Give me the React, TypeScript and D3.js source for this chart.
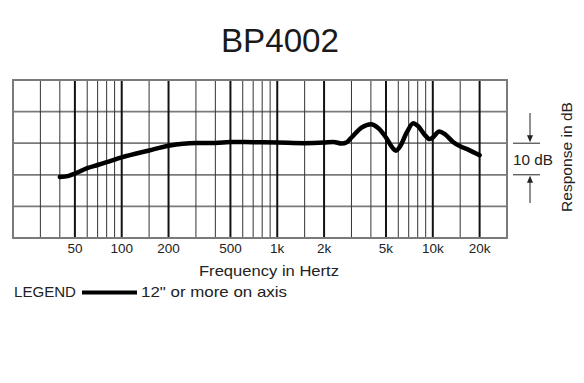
import React from "react";
import * as d3 from "d3";

const title = "BP4002";
const freqs = [40, 45, 50, 60, 70, 80, 100, 150, 200, 300, 400, 500, 700, 1000, 1500, 2000, 2300, 2600, 2800, 3000, 3500, 4000, 4500, 5000, 5500, 5800, 6200, 6800, 7500, 8000, 9000, 9500, 10000, 11000, 12000, 13500, 15000, 17000, 20000];
const response = [-10.7, -10.4, -9.6, -7.9, -6.9, -6.0, -4.5, -2.3, -0.8, 0.1, 0.1, 0.4, 0.3, 0.2, 0.0, 0.2, 0.4, -0.1, 0.3, 1.8, 5.0, 6.0, 4.6, 1.8, -1.4, -2.4, -0.8, 3.4, 6.3, 5.5, 2.3, 1.3, 1.8, 3.7, 2.8, 0.4, -1.0, -2.1, -3.8];
const gridFreqs = [30, 40, 50, 60, 70, 80, 90, 100, 150, 200, 300, 400, 500, 600, 700, 800, 900, 1000, 1500, 2000, 3000, 4000, 5000, 6000, 7000, 8000, 9000, 10000, 15000, 20000];
const majorFreqs = [50, 100, 200, 500, 1000, 2000, 5000, 10000, 20000];
const tickLabels = ["50", "100", "200", "500", "1k", "2k", "5k", "10k", "20k"];
const dbLines = [10, 0, -10, -20];

const FONT = "'Liberation Sans', Arial, sans-serif";

export default function App() {
  const x = d3.scaleLog().domain([20, 30000]).range([13, 507]);
  const y = d3.scaleLinear().domain([-30, 20]).range([238, 80]);
  const line = d3
    .line<number>()
    .x((_, i) => x(freqs[i]))
    .y((d) => y(d))
    .curve(d3.curveMonotoneX);
  const y0 = y(0);
  const y10 = y(-10);
  const ax = 530;
  return (
    <svg width={584} height={383} style={{ position: "absolute", left: 0, top: 0 }} fontFamily={FONT}>
      <rect width={584} height={383} fill="#fff" />
      <text x={280} y={52} textAnchor="middle" fontSize={34} textLength={118} lengthAdjust="spacingAndGlyphs" fill="#1a1a1a">{title}</text>
      {dbLines.map((d) => (
        <line key={"h" + d} x1={13} x2={507} y1={y(d)} y2={y(d)} stroke="#7a7a7a" strokeWidth={1.8} />
      ))}
      {gridFreqs.map((f) => {
        const major = majorFreqs.includes(f);
        return (
          <line key={"v" + f} x1={x(f)} x2={x(f)} y1={80} y2={238} stroke={major ? "#111" : "#333"} strokeWidth={major ? 2 : 1} />
        );
      })}
      <rect x={13} y={80} width={494} height={158} fill="none" stroke="#7a7a7a" strokeWidth={2} />
      <path d={line(response) || ""} fill="none" stroke="#000" strokeWidth={4.5} strokeLinecap="round" strokeLinejoin="round" />
      {majorFreqs.map((f, i) => (
        <text key={"t" + f} x={x(f)} y={253} textAnchor="middle" fontSize={13.5} fill="#222">{tickLabels[i]}</text>
      ))}
      <text x={269} y={276} textAnchor="middle" fontSize={15} textLength={140} lengthAdjust="spacingAndGlyphs" fill="#222">Frequency in Hertz</text>
      <text x={14} y={297} fontSize={15} textLength={62} lengthAdjust="spacingAndGlyphs" fill="#222">LEGEND</text>
      <line x1={82} x2={137} y1={292.5} y2={292.5} stroke="#000" strokeWidth={4} />
      <text x={141} y={297} fontSize={15} textLength={146} lengthAdjust="spacingAndGlyphs" fill="#222">12" or more on axis</text>
      <line x1={513} x2={540} y1={y0} y2={y0} stroke="#222" strokeWidth={1} />
      <line x1={513} x2={540} y1={y10} y2={y10} stroke="#222" strokeWidth={1} />
      <line x1={ax} x2={ax} y1={113} y2={y0 - 6} stroke="#222" strokeWidth={1} />
      <path d={`M${ax - 3},${y0 - 8} L${ax + 3},${y0 - 8} L${ax},${y0 - 1} Z`} fill="#222" />
      <line x1={ax} x2={ax} y1={y10 + 6} y2={203} stroke="#222" strokeWidth={1} />
      <path d={`M${ax - 3},${y10 + 8} L${ax + 3},${y10 + 8} L${ax},${y10 + 1} Z`} fill="#222" />
      <text x={513} y={165} fontSize={15} textLength={40} lengthAdjust="spacingAndGlyphs" fill="#222">10 dB</text>
      <text transform="translate(572,157) rotate(-90)" textAnchor="middle" fontSize={15} textLength={110} lengthAdjust="spacingAndGlyphs" fill="#222">Response in dB</text>
    </svg>
  );
}
